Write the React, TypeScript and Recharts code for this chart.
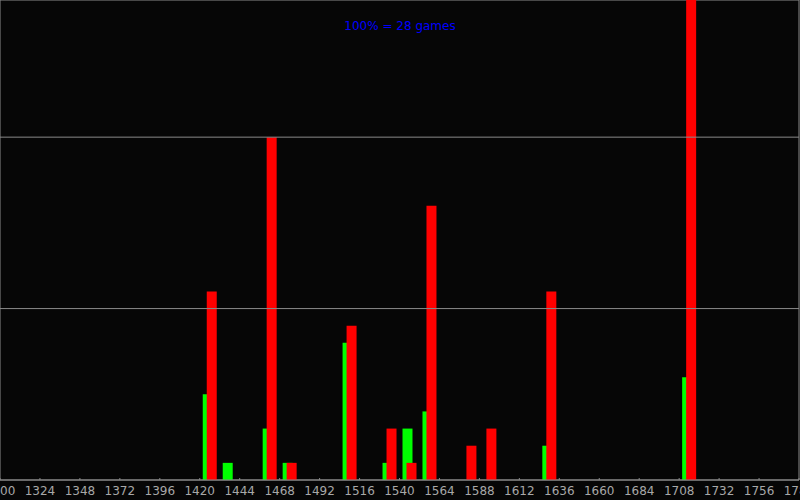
import { Bar, BarChart, ReferenceArea, ReferenceLine, XAxis, YAxis } from "recharts";

// rating bins (start of each 12-point bin) that have any games
const bins = [1420, 1432, 1456, 1468, 1504, 1528, 1540, 1552, 1576, 1588, 1624, 1708];
const green = [5, 1, 3, 1, 8, 1, 3, 4, 0, 0, 2, 6];
const red = [11, 0, 20, 1, 9, 3, 1, 16, 2, 3, 11, 28];
const binWidth = 12;
const total = 28;

const xTicks = [
  1300, 1324, 1348, 1372, 1396, 1420, 1444, 1468, 1492, 1516, 1540, 1564, 1588, 1612, 1636, 1660,
  1684, 1708, 1732, 1756, 1780,
];
const yGrid = [10, 20];

const data = bins.map((b, i) => ({ x: b + binWidth / 2, green: green[i], red: red[i] }));

const gray = "#8a8a8a";
const font = "'DejaVu Sans', sans-serif";

function Tick({ x, y, payload }: any) {
  return (
    <g>
      <line x1={x} x2={x} y1={y - 2} y2={y} stroke={gray} />
      <text x={x} y={y + 15} textAnchor="middle" fill="#a8a8a8" fontSize={12} fontFamily={font}>
        {payload.value}
      </text>
    </g>
  );
}

export default function App() {
  return (
    <div style={{ position: "relative", width: 800, height: 500, background: "#060606" }}>
      <style>{"body{margin:0;background:#060606}"}</style>
      <BarChart
        width={800}
        height={500}
        data={data}
        margin={{ top: 0, right: 1, left: 0, bottom: 0 }}
        barGap={-6}
      >
        <XAxis
          dataKey="x"
          type="number"
          domain={[1300, 1780]}
          ticks={xTicks}
          interval={0}
          height={20}
          tickSize={0}
          tickMargin={0}
          tick={<Tick />}
          axisLine={{ stroke: gray }}
          allowDataOverflow
        />
        <YAxis width={0} domain={[0, total]} tick={false} axisLine={false} />
        {yGrid.map((v) => (
          <ReferenceLine key={v} y={v} stroke={gray} />
        ))}
        <ReferenceArea
          x1={1300}
          x2={1780}
          y1={0}
          y2={total}
          fill="none"
          stroke={gray}
          ifOverflow="visible"
        />
        <Bar dataKey="green" fill="#00ff00" barSize={10} isAnimationActive={false} />
        <Bar dataKey="red" fill="#ff0000" barSize={10} isAnimationActive={false} />
      </BarChart>
      <div
        style={{
          position: "absolute",
          top: 19,
          left: 0,
          width: 800,
          textAlign: "center",
          color: "#0000ff",
          fontSize: 12,
          fontFamily: font,
        }}
      >
        100% = {total} games
      </div>
    </div>
  );
}
